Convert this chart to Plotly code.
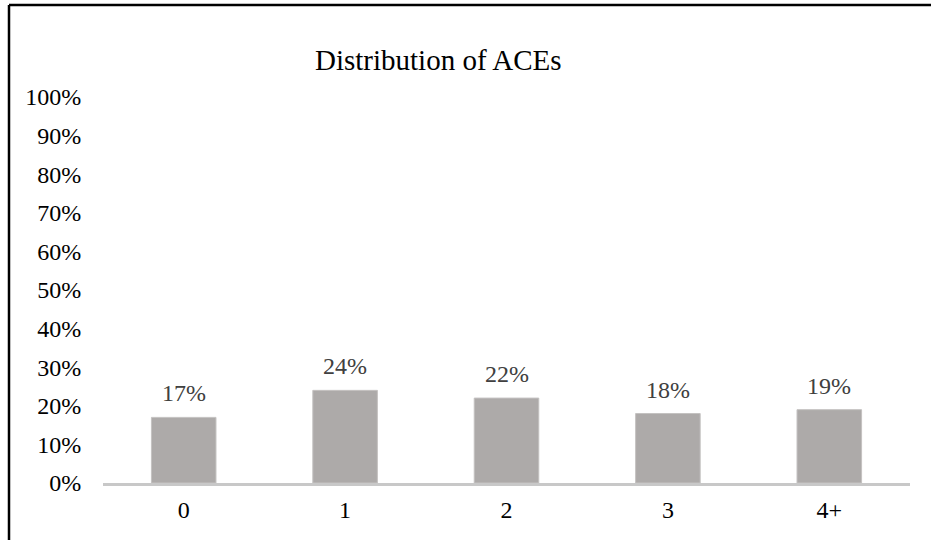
import plotly.graph_objects as go

# Share of respondents by number of adverse childhood experiences
categories = ["0", "1", "2", "3", "4+"]
shares = [0.17, 0.24, 0.22, 0.18, 0.19]
y_ticks = [0, 0.1, 0.2, 0.3, 0.4, 0.5, 0.6, 0.7, 0.8, 0.9, 1.0]

W, H = 931, 540
ML, MR, MT, MB = 103, 21, 97, 57
plot_w = W - ML - MR
plot_h = H - MT - MB


def px_to_paper_x(px):
    return (px - ML) / plot_w


def px_to_paper_y(py):
    return (H - MB - py) / plot_h


FONT = "Liberation Serif, Times New Roman, serif"

fig = go.Figure()
fig.add_trace(go.Bar(
    x=categories,
    y=shares,
    width=0.4,
    marker=dict(color="#ADAAA9", line=dict(color="#C4C2C1", width=1)),
    hoverinfo="skip",
))

# value labels above each bar
for c, v in zip(categories, shares):
    fig.add_annotation(
        x=c, y=v, text=f"{round(v * 100)}%",
        showarrow=False, yanchor="middle", yshift=24,
        font=dict(family=FONT, size=24, color="#404040"),
    )

# chart title
fig.add_annotation(
    x=px_to_paper_x(438), y=px_to_paper_y(60), xref="paper", yref="paper",
    text="Distribution of ACEs", showarrow=False,
    xanchor="center", yanchor="middle",
    font=dict(family=FONT, size=29, color="#000000"),
)

# frame lines along the top and left edges
fig.add_shape(type="line", xref="paper", yref="paper",
              x0=px_to_paper_x(9), x1=px_to_paper_x(931),
              y0=px_to_paper_y(5), y1=px_to_paper_y(5),
              line=dict(color="#000000", width=2.5))
fig.add_shape(type="line", xref="paper", yref="paper",
              x0=px_to_paper_x(9), x1=px_to_paper_x(9),
              y0=px_to_paper_y(5), y1=px_to_paper_y(540),
              line=dict(color="#000000", width=2.5))

fig.update_layout(
    width=W, height=H,
    margin=dict(l=ML, r=MR, t=MT, b=MB),
    paper_bgcolor="white", plot_bgcolor="white",
    showlegend=False,
    font=dict(family=FONT, size=24, color="#000000"),
    xaxis=dict(
        type="category",
        showline=True, linecolor="#C8C8C8", linewidth=3,
        showgrid=False, zeroline=False,
        ticks="outside", ticklen=3, tickcolor="rgba(0,0,0,0)",
        tickfont=dict(family=FONT, size=24, color="#000000"),
    ),
    yaxis=dict(
        range=[0, 1.0],
        tickvals=y_ticks,
        tickformat=".0%",
        showline=False, showgrid=False, zeroline=False,
        ticks="outside", ticklen=16, tickcolor="rgba(0,0,0,0)",
        tickfont=dict(family=FONT, size=24, color="#000000"),
    ),
)

fig.write_html("out.html")
